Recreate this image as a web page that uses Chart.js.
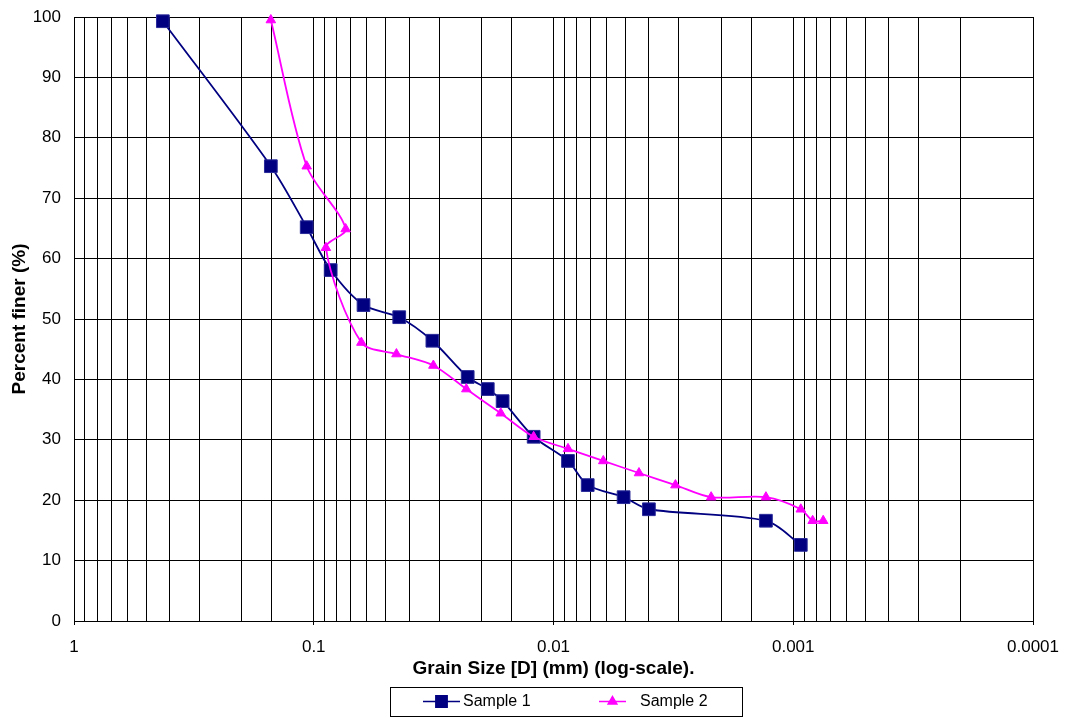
<!DOCTYPE html>
<html>
<head>
<meta charset="utf-8">
<title>Grain size distribution</title>
<script src="https://cdn.jsdelivr.net/npm/chart.js@4.4.1/dist/chart.umd.min.js"></script>
<style>
  html, body { margin: 0; padding: 0; background: #fff; }
  #wrap { width: 1065px; height: 717px; }
</style>
</head>
<body>
<div id="wrap"><canvas id="gradingChart" width="1065" height="717"></canvas></div>
<script>
// ===================== Data =====================
const sample1Size = [0.426, 0.151, 0.107, 0.085, 0.062, 0.044, 0.032, 0.0228, 0.0188, 0.0163, 0.0121, 0.0087, 0.0072, 0.0051, 0.0040, 0.0013, 0.00093];
const sample1Finer = [99.3, 75.3, 65.2, 58.1, 52.3, 50.3, 46.4, 40.4, 38.4, 36.4, 30.5, 26.5, 22.5, 20.5, 18.5, 16.6, 12.6];

const sample2Size = [0.151, 0.107, 0.0736, 0.089, 0.0633, 0.0452, 0.0317, 0.0231, 0.0166, 0.0121, 0.0087, 0.0062, 0.0044, 0.0031, 0.0022, 0.0013, 0.00093, 0.00083, 0.00075];
const sample2Finer = [99.5, 75.3, 64.9, 61.8, 46.1, 44.2, 42.3, 38.4, 34.4, 30.5, 28.5, 26.5, 24.5, 22.5, 20.5, 20.5, 18.5, 16.6, 16.6];

const xTickLabels = ["1", "0.1", "0.01", "0.001", "0.0001"];
const seriesNames = ["Sample 1", "Sample 2"];

const NAVY = "#000080";
const MAGENTA = "#ff00ff";

Chart.defaults.font.family = "'Liberation Sans', Arial, sans-serif";
Chart.defaults.color = "#000";

function toPoints(xs, ys) {
  return xs.map((x, i) => ({ x: x, y: ys[i] }));
}

// is this tick a power of ten?
function decadeIndex(v) {
  const e = Math.log10(v);
  const r = Math.round(e);
  return Math.abs(e - r) < 1e-6 ? -r : -1;
}

// ===================== Legend (boxed, line + marker) =====================
const boxLegend = {
  id: "boxLegend",
  afterDraw(chart) {
    const c = chart.ctx;
    c.save();
    c.fillStyle = "#fff";
    c.fillRect(390, 687, 352, 29);
    c.strokeStyle = "#000";
    c.lineWidth = 1;
    c.strokeRect(390.5, 687.5, 352, 29);

    const y = 701.5;
    const items = [
      { x0: 423, x1: 460, color: NAVY, style: "rect", r: 8, tx: 463 },
      { x0: 599, x1: 626, color: MAGENTA, style: "triangle", r: 5, tx: 640 }
    ];
    items.forEach((it, i) => {
      c.strokeStyle = it.color;
      c.lineWidth = 1.5;
      c.beginPath();
      c.moveTo(it.x0, y);
      c.lineTo(it.x1, y);
      c.stroke();
      c.fillStyle = it.color;
      Chart.helpers.drawPoint(c, { pointStyle: it.style, radius: it.r, borderWidth: 1 }, (it.x0 + it.x1) / 2, y);
      c.fillStyle = "#000";
      c.font = "16px 'Liberation Sans', Arial, sans-serif";
      c.textBaseline = "middle";
      c.textAlign = "left";
      c.fillText(seriesNames[i], it.tx, y);
    });
    c.restore();
  }
};

// ===================== Chart Setup =====================
const ctx = document.getElementById("gradingChart").getContext("2d");

new Chart(ctx, {
  type: "line",
  data: {
    datasets: [
      {
        label: seriesNames[0],
        data: toPoints(sample1Size, sample1Finer),
        borderColor: NAVY,
        backgroundColor: NAVY,
        borderWidth: 1.8,
        pointStyle: "rect",
        pointRadius: 9,
        pointBorderWidth: 1,
        pointBorderColor: "#2a2a9a",
        pointBackgroundColor: NAVY,
        tension: 0.3,
        fill: false,
        clip: false,
        order: 1
      },
      {
        label: seriesNames[1],
        data: toPoints(sample2Size, sample2Finer),
        borderColor: MAGENTA,
        backgroundColor: MAGENTA,
        borderWidth: 1.8,
        pointStyle: "triangle",
        pointRadius: 5.5,
        pointBorderWidth: 1,
        pointBackgroundColor: MAGENTA,
        tension: 0.3,
        fill: false,
        clip: false,
        order: 0
      }
    ]
  },
  options: {
    responsive: false,
    animation: false,
    devicePixelRatio: 1,
    layout: { padding: { top: 17, right: 32, bottom: 0, left: 0 } },
    plugins: {
      legend: { display: false },
      tooltip: { enabled: false }
    },
    scales: {
      x: {
        type: "logarithmic",
        reverse: true,
        min: 0.0001,
        max: 1,
        afterFit: (s) => { s.height = 96; s.paddingLeft = 0; s.paddingRight = 0; },
        border: { color: "#000", width: 1 },
        grid: {
          color: "#000",
          lineWidth: 1,
          tickLength: 4,
          tickColor: (c) => (c.tick && decadeIndex(c.tick.value) >= 0 ? "#000" : "rgba(0,0,0,0)")
        },
        ticks: {
          autoSkip: false,
          maxRotation: 0,
          padding: 12,
          font: { size: 17 },
          callback: (v) => {
            const i = decadeIndex(v);
            return i >= 0 ? xTickLabels[i] : "";
          }
        },
        title: {
          display: true,
          text: "Grain Size [D] (mm) (log-scale).",
          font: { size: 19, weight: "bold" },
          padding: { top: 0, bottom: 37 }
        }
      },
      y: {
        min: 0,
        max: 100,
        afterFit: (s) => { s.width = 74; s.paddingTop = 0; s.paddingBottom = 0; },
        border: { color: "#000", width: 1 },
        grid: { color: "#000", lineWidth: 1, drawTicks: false },
        ticks: { stepSize: 10, padding: 13, font: { size: 17 } },
        title: {
          display: true,
          text: "Percent finer (%)",
          font: { size: 19, weight: "bold" },
          padding: { top: 8, bottom: 0 }
        }
      }
    }
  },
  plugins: [boxLegend]
});
</script>
</body>
</html>
